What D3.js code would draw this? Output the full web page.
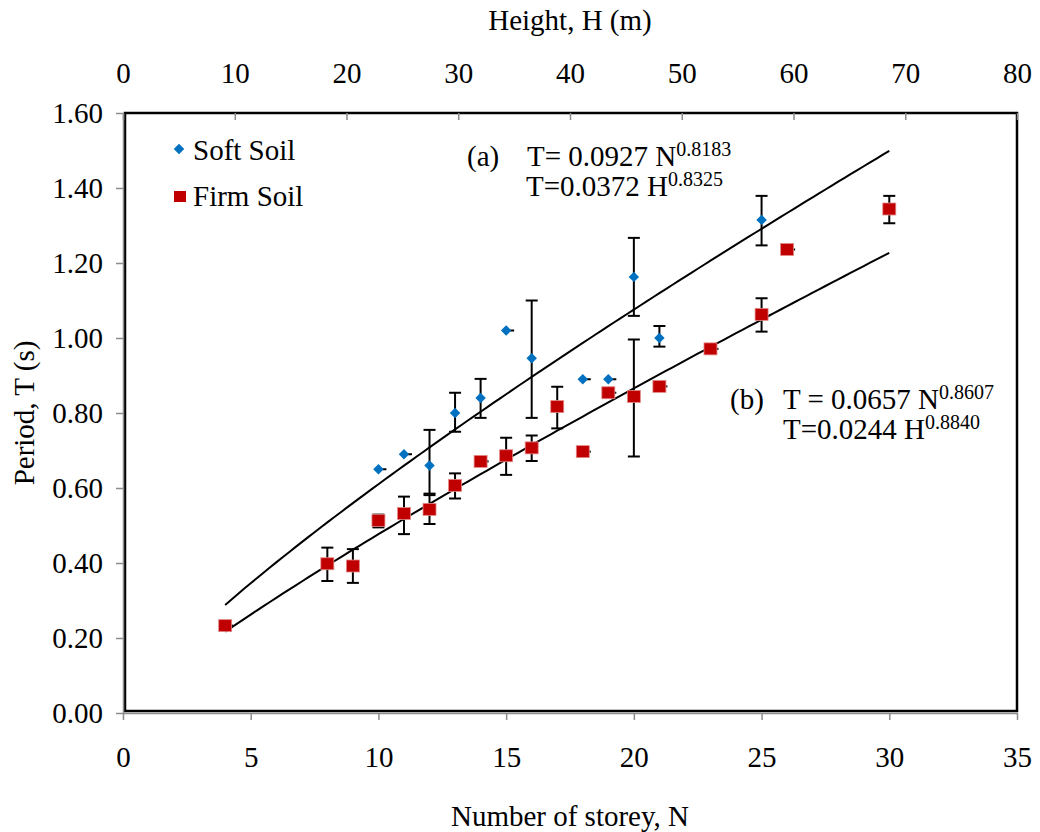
<!DOCTYPE html>
<html>
<head>
<meta charset="utf-8">
<script src="https://cdn.jsdelivr.net/npm/d3@7"></script>
<style>
  body { margin: 0; background: #fff; }
</style>
</head>
<body>
<div id="chart"></div>
<script>
// storeys and measured periods, soft soil
let softN = [10, 11, 12, 13, 14, 15, 16, 18, 19, 20, 21, 25]
let softT = [0.65, 0.69, 0.66, 0.80, 0.84, 1.02, 0.946, 0.89, 0.89, 1.163, 1.00, 1.315]
let softLo = [null, null, 0.585, 0.75, 0.787, null, 0.787, null, null, 1.059, 0.977, 1.247]
let softHi = [null, null, 0.755, 0.854, 0.891, null, 1.10, null, null, 1.267, 1.032, 1.379]

// firm soil
let firmN = [4, 8, 9, 10, 11, 12, 13, 14, 15, 16, 17, 18, 19, 20, 21, 23, 25, 26, 30]
let firmT = [0.233, 0.398, 0.392, 0.513, 0.532, 0.543, 0.607, 0.671, 0.686, 0.707, 0.817, 0.697, 0.854, 0.844, 0.871, 0.971, 1.063, 1.236, 1.344]
let firmLo = [null, 0.352, 0.347, 0.495, 0.477, 0.504, 0.572, null, 0.635, 0.672, 0.759, null, null, 0.684, null, null, 1.017, null, 1.306]
let firmHi = [null, 0.441, 0.437, 0.529, 0.577, 0.581, 0.639, null, 0.734, 0.74, 0.870, null, null, 0.996, null, null, 1.106, null, 1.379]

// power fits T = a N^b shown on the chart
let softFit = [0.0927, 0.8183]
let firmFit = [0.0657, 0.8607]
let fitRange = [4, 30]

let nTicks = [0, 5, 10, 15, 20, 25, 30, 35]
let hTicks = [0, 10, 20, 30, 40, 50, 60, 70, 80]
let tTicks = [0, 0.2, 0.4, 0.6, 0.8, 1.0, 1.2, 1.4, 1.6]

let width = 1040
let height = 832
let margin = { top: 113, right: 23, bottom: 119, left: 123 }
let serif = 'Liberation Serif'
let fontSize = 29

let svg = d3.select('#chart')
  .append('svg')
  .attr('width', width)
  .attr('height', height)
  .style('font-family', serif)

let x = d3.scaleLinear().domain([0, 35]).range([margin.left, width - margin.right])
let xTop = d3.scaleLinear().domain([0, 80]).range([margin.left, width - margin.right])
let y = d3.scaleLinear().domain([0, 1.6]).range([height - margin.bottom, margin.top])

// plot frame
svg.append('rect')
  .attr('x', x(0) + 2)
  .attr('y', y(1.6))
  .attr('width', x(35) - x(0) - 2)
  .attr('height', y(0) - y(1.6) - 2)
  .attr('fill', 'none')
  .attr('stroke', '#000')
  .attr('stroke-width', 2.5)

// axes
let axisStyle = g => {
  g.attr('font-family', null)
  g.selectAll('path').attr('stroke', '#8c8c8c').attr('stroke-width', 1.5)
  g.selectAll('line').attr('stroke', '#8c8c8c').attr('stroke-width', 1.5)
  g.selectAll('text')
    .style('font-family', serif)
    .style('font-size', fontSize + 'px')
    .attr('fill', '#000')
}

svg.append('g')
  .attr('transform', `translate(0, ${y(0)})`)
  .call(d3.axisBottom(x).tickValues(nTicks).tickSize(7).tickSizeOuter(0).tickPadding(26).tickFormat(d3.format('d')))
  .call(axisStyle)

svg.append('g')
  .attr('transform', `translate(${x(0)}, 0)`)
  .call(d3.axisLeft(y).tickValues(tTicks).tickSize(7).tickSizeOuter(0).tickPadding(13).tickFormat(d3.format('.2f')))
  .call(axisStyle)

svg.append('g')
  .attr('transform', `translate(0, ${y(1.6)})`)
  .call(d3.axisBottom(xTop).tickValues(hTicks).tickSize(7).tickSizeOuter(0).tickFormat(d3.format('d')))
  .call(axisStyle)
  .call(g => g.select('path').remove())
  .call(g => g.selectAll('text').attr('y', -30).attr('dy', 0))

// axis titles
let label = (px, py, txt) => svg.append('text')
  .attr('x', px)
  .attr('y', py)
  .style('font-family', serif)
  .style('font-size', fontSize + 'px')
  .text(txt)

label((x(0) + x(35)) / 2, 826, 'Number of storey, N').attr('text-anchor', 'middle')
label((x(0) + x(35)) / 2, 30, 'Height, H (m)').attr('text-anchor', 'middle')
label(0, 0, 'Period, T (s)')
  .attr('text-anchor', 'middle')
  .attr('transform', `translate(34, ${(y(0) + y(1.6)) / 2}) rotate(-90)`)

// fit curves
let line = d3.line().x(d => x(d[0])).y(d => y(d[1]))
let fitPoints = fit => d3.range(fitRange[0], fitRange[1] + 0.01, 0.25).map(n => [n, fit[0] * Math.pow(n, fit[1])])

svg.append('path')
  .datum(fitPoints(softFit))
  .attr('d', line)
  .attr('fill', 'none')
  .attr('stroke', '#000')
  .attr('stroke-width', 2)

svg.append('path')
  .datum(fitPoints(firmFit))
  .attr('d', line)
  .attr('fill', 'none')
  .attr('stroke', '#000')
  .attr('stroke-width', 2)

// error bars
function errorBars(ns, lo, hi) {
  let g = svg.append('g').attr('stroke', '#000').attr('stroke-width', 2)
  ns.forEach((n, i) => {
    if (lo[i] == null) return
    let cx = x(n)
    g.append('line').attr('x1', cx).attr('x2', cx).attr('y1', y(lo[i])).attr('y2', y(hi[i]))
    g.append('line').attr('x1', cx - 6).attr('x2', cx + 6).attr('y1', y(lo[i])).attr('y2', y(lo[i]))
    g.append('line').attr('x1', cx - 6).attr('x2', cx + 6).attr('y1', y(hi[i])).attr('y2', y(hi[i]))
  })
}

// points without a visible spread only show a tiny cap stub
function stubs(ns, ts, lo) {
  ns.forEach((n, i) => {
    if (lo[i] != null) return
    svg.append('line')
      .attr('x1', x(n)).attr('x2', x(n) + 8)
      .attr('y1', y(ts[i])).attr('y2', y(ts[i]))
      .attr('stroke', '#000').attr('stroke-width', 2)
  })
}

errorBars(softN, softLo, softHi)
errorBars(firmN, firmLo, firmHi)
stubs(softN, softT, softLo)
stubs(firmN, firmT, firmLo)

// markers
let diamond = 'M-3.7,-3.7H3.7V3.7H-3.7Z'

svg.append('g')
  .selectAll('path')
  .data(softN)
  .enter()
  .append('path')
  .attr('transform', (d, i) => `translate(${x(d)}, ${y(softT[i])}) rotate(45)`)
  .attr('d', diamond)
  .attr('fill', '#0070c0')

svg.append('g')
  .selectAll('rect')
  .data(firmN)
  .enter()
  .append('rect')
  .attr('x', d => x(d) - 6.5)
  .attr('y', (d, i) => y(firmT[i]) - 6)
  .attr('width', 13)
  .attr('height', 12)
  .attr('fill', '#c00000')
  .attr('stroke', '#e48a8a')
  .attr('stroke-width', 0.8)

// legend
svg.append('path')
  .attr('transform', 'translate(179, 149) rotate(45)')
  .attr('d', diamond)
  .attr('fill', '#0070c0')
label(193, 160, 'Soft Soil')

svg.append('rect')
  .attr('x', 174).attr('y', 191).attr('width', 12).attr('height', 11)
  .attr('fill', '#c00000')
label(193, 206, 'Firm Soil')

// equations
function equation(px, py, tag, lines, gap) {
  label(px, py, tag)
  lines.forEach((l, i) => {
    let t = label(l.x, py + i * gap, '')
    t.append('tspan').text(l.base)
    t.append('tspan').style('font-size', '20px').attr('dy', -10).text(l.exp)
  })
}

equation(467, 166, '(a)', [
  { x: 527, base: 'T= 0.0927 N', exp: '0.8183' },
  { x: 526, base: 'T=0.0372 H', exp: '0.8325' }
], 30)

equation(730, 409, '(b)', [
  { x: 783, base: 'T = 0.0657 N', exp: '0.8607' },
  { x: 783, base: 'T=0.0244 H', exp: '0.8840' }
], 30)
</script>
</body>
</html>
